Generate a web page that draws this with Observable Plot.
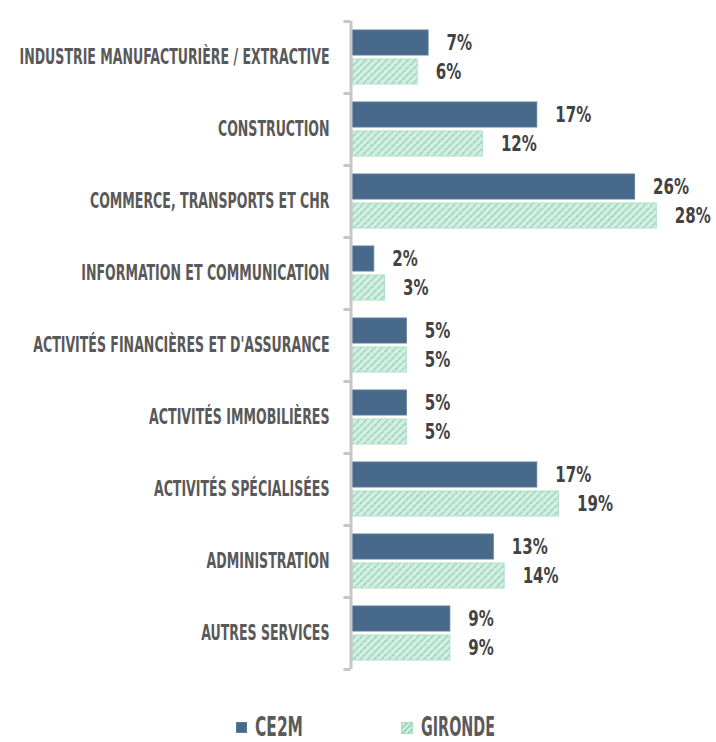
<!DOCTYPE html>
<html><head><meta charset="utf-8">
<script src="https://cdn.jsdelivr.net/npm/d3@7"></script>
<script src="https://cdn.jsdelivr.net/npm/@observablehq/plot@0.6"></script>
<style>
body{margin:0;background:#fff;font-family:"Liberation Sans Narrow","DejaVu Sans Condensed","Liberation Sans",sans-serif;}
#chart svg{display:block}
#chart text{font-weight:bold}
.leg{position:absolute;top:708px;height:36px;display:flex;align-items:center;font-weight:bold;font-size:27px;color:#5a5a5a;}
.leg .sw{width:11px;height:11px;margin-right:8px;margin-top:3px;box-sizing:border-box}
.leg .lab{display:inline-block;transform-origin:left center}
</style></head><body>
<div id="chart"></div>
<div class="leg" style="left:236px"><div class="sw" style="background:#47698a;border:1px solid #5b7d9b"></div><span class="lab">CE2M</span></div>
<div class="leg" style="left:401px"><svg class="sw" width="12" height="12" viewBox="0 0 12 12" style="width:12px;height:12px"><defs><pattern id="hatchL" width="4" height="4" patternUnits="userSpaceOnUse" patternTransform="rotate(45)"><rect width="4" height="4" fill="#d6efe4"/><line x1="1" y1="0" x2="1" y2="4" stroke="#84cdac" stroke-width="1.5"/></pattern></defs><rect x="0.5" y="0.5" width="11" height="11" fill="url(#hatchL)" stroke="#a9dcc5"/></svg><span class="lab">GIRONDE</span></div>
<script>
const categories = [
  "INDUSTRIE MANUFACTURIÈRE / EXTRACTIVE",
  "CONSTRUCTION",
  "COMMERCE, TRANSPORTS ET CHR",
  "INFORMATION ET COMMUNICATION",
  "ACTIVITÉS FINANCIÈRES ET D'ASSURANCE",
  "ACTIVITÉS IMMOBILIÈRES",
  "ACTIVITÉS SPÉCIALISÉES",
  "ADMINISTRATION",
  "AUTRES SERVICES"
];
const seriesNames = ["CE2M", "GIRONDE"];
const ce2m = [7, 17, 26, 2, 5, 5, 17, 13, 9];
const gironde = [6, 12, 28, 3, 5, 5, 19, 14, 9];

const rowsA = categories.map((c, i) => ({category: c, series: seriesNames[0], value: ce2m[i]}));
const rowsB = categories.map((c, i) => ({category: c, series: seriesNames[1], value: gironde[i]}));

function hatchDefs() {
  const ns = "http://www.w3.org/2000/svg";
  const defs = document.createElementNS(ns, "defs");
  defs.innerHTML = `<pattern id="hatch" width="5" height="5" patternUnits="userSpaceOnUse" patternTransform="rotate(45)">
    <rect width="5" height="5" fill="#d6efe4"/>
    <line x1="1" y1="0" x2="1" y2="5" stroke="#86cead" stroke-width="1.4" stroke-dasharray="2 0.8"/>
  </pattern>`;
  return defs;
}

const plot = Plot.plot({
  width: 716,
  height: 690,
  marginTop: 21,
  marginBottom: 21,
  marginLeft: 352,
  marginRight: 38,
  x: {domain: [0, 30], axis: null},
  y: {domain: categories, padding: 0, axis: null},
  style: {fontFamily: '"Liberation Sans Narrow","DejaVu Sans Condensed","Liberation Sans",sans-serif', background: "transparent"},
  marks: [
    hatchDefs,
    Plot.barX(rowsA, {x: "value", y: "category", fill: "#47698a", stroke: "#5b7d9b", strokeWidth: 1, insetTop: 9, insetBottom: 38}),
    Plot.barX(rowsB, {x: "value", y: "category", fill: "url(#hatch)", stroke: "#ace0c8", strokeWidth: 1, insetTop: 38, insetBottom: 9}),
    Plot.ruleX([0], {stroke: "#c6c6c6", strokeWidth: 3, dx: -1.5}),
    Plot.axisY({tickSize: 7, tickFormat: () => "", label: null, dy: -36, stroke: "#c6c6c6", strokeWidth: 3, dx: -1.5}),
    Plot.axisY({ticks: [categories[categories.length - 1]], tickSize: 7, tickFormat: () => "", label: null, dy: 36, stroke: "#c6c6c6", strokeWidth: 3, dx: -1.5}),
    Plot.axisY({tickSize: 0, tickPadding: 23, fontSize: 21, fill: "#595959", label: null}),
    Plot.text(rowsA, {x: "value", y: "category", text: d => d.value + "%", textAnchor: "start", dx: 18, dy: -14.5, fontSize: 22, fill: "#424242"}),
    Plot.text(rowsB, {x: "value", y: "category", text: d => d.value + "%", textAnchor: "start", dx: 18, dy: 14.5, fontSize: 22, fill: "#424242"})
  ]
});
document.getElementById("chart").appendChild(plot);

// condense text (Bebas-like condensed look)
const svg = d3.select(plot);
const texts = svg.selectAll("text").nodes();
const catTexts = texts.filter(t => categories.includes(t.textContent));
const valTexts = texts.filter(t => /%$/.test(t.textContent));
function condense(nodes, refText, target) {
  const ref = nodes.find(t => t.textContent === refText);
  if (!ref) return;
  const f = target / ref.getComputedTextLength();
  nodes.forEach(t => {
    const w = t.getComputedTextLength();
    t.setAttribute("textLength", w * f);
    t.setAttribute("lengthAdjust", "spacingAndGlyphs");
  });
}
condense(catTexts, categories[0], 310);
condense(valTexts, "26%", 36);
document.querySelectorAll(".leg .lab").forEach(el => {
  const w = el.getBoundingClientRect().width;
  const target = el.textContent === "CE2M" ? 48 : 74;
  el.style.transform = `scaleX(${target / w})`;
});
</script>
</body></html>
